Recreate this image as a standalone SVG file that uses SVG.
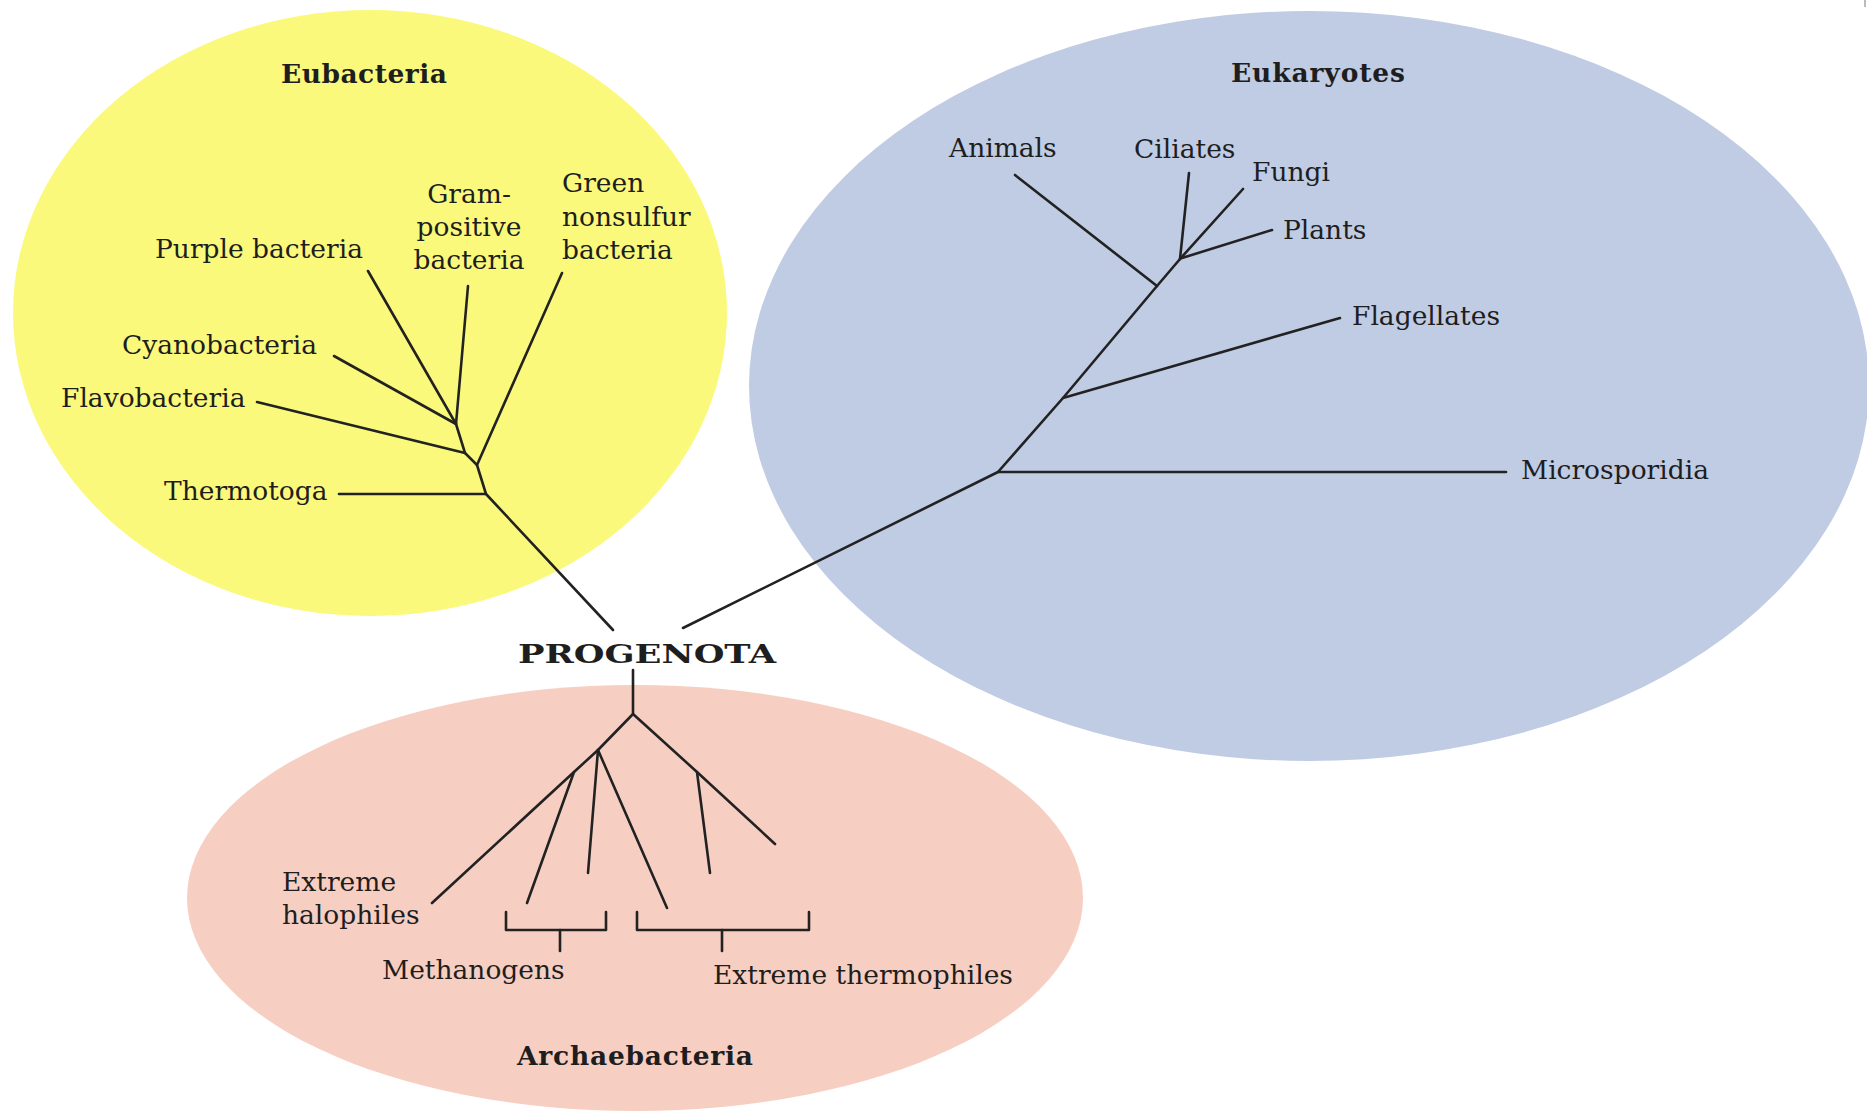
<svg xmlns="http://www.w3.org/2000/svg" width="1867" height="1112" viewBox="0 0 1867 1112">
<style>
.t{font-family:"DejaVu Serif","Liberation Serif",serif;font-size:26.5px;fill:#1e1e1e}
.b{font-weight:bold}
.ln{stroke:#222;stroke-width:2.6;fill:none;stroke-linecap:round;stroke-linejoin:round}
</style>
<rect width="1867" height="1112" fill="#ffffff"/>
<g id="eubacteria">
<ellipse cx="370" cy="313" rx="357" ry="303" fill="#fbf97b"/>
<text class="t b" x="364" y="83" text-anchor="middle" textLength="166">Eubacteria</text>
<text class="t" x="155" y="258">Purple bacteria</text>
<text class="t" x="469" y="203" text-anchor="middle">Gram-</text>
<text class="t" x="469" y="236" text-anchor="middle">positive</text>
<text class="t" x="469" y="269" text-anchor="middle">bacteria</text>
<text class="t" x="562" y="192">Green</text>
<text class="t" x="562" y="226">nonsulfur</text>
<text class="t" x="562" y="259">bacteria</text>
<text class="t" x="122" y="354">Cyanobacteria</text>
<text class="t" x="61" y="407">Flavobacteria</text>
<text class="t" x="164" y="500">Thermotoga</text>
</g>
<g id="eukaryotes">
<ellipse cx="1309" cy="386" rx="560" ry="375" fill="#c0cce4"/>
<text class="t b" x="1318" y="82" text-anchor="middle" textLength="174">Eukaryotes</text>
<text class="t" x="949" y="157">Animals</text>
<text class="t" x="1134" y="158">Ciliates</text>
<text class="t" x="1252" y="181">Fungi</text>
<text class="t" x="1283" y="239">Plants</text>
<text class="t" x="1352" y="325">Flagellates</text>
<text class="t" x="1521" y="479">Microsporidia</text>
</g>
<g id="archaebacteria">
<ellipse cx="635" cy="898" rx="448" ry="213" fill="#f7cfc2"/>
<text class="t" x="282" y="891">Extreme</text>
<text class="t" x="282" y="924">halophiles</text>
<text class="t" x="382" y="979">Methanogens</text>
<text class="t" x="713" y="984">Extreme thermophiles</text>
<text class="t b" x="635" y="1065" text-anchor="middle" textLength="236">Archaebacteria</text>
</g>
<g id="progenota">
<text class="t b" x="647" y="663" text-anchor="middle" font-size="34" textLength="258" lengthAdjust="spacingAndGlyphs">PROGENOTA</text>
</g>
<g id="connectors" class="ln">
<!-- Eubacteria tree -->
<polyline points="368,271 456,424 465,453 477,465 486,494 613,630"/>
<line x1="468" y1="286" x2="456" y2="424"/>
<line x1="334" y1="356" x2="456" y2="424"/>
<line x1="257" y1="402" x2="465" y2="453"/>
<line x1="562" y1="273" x2="477" y2="465"/>
<line x1="339" y1="494" x2="486" y2="494"/>
<!-- Eukaryote tree -->
<polyline points="683,628 998,472 1063,398 1157,286 1180,259"/>
<line x1="998" y1="472" x2="1506" y2="472"/>
<line x1="1063" y1="398" x2="1340" y2="318"/>
<line x1="1015" y1="175" x2="1157" y2="286"/>
<line x1="1189" y1="173" x2="1180" y2="259"/>
<line x1="1243" y1="189" x2="1180" y2="259"/>
<line x1="1272" y1="230" x2="1182" y2="258"/>
<!-- Archaebacteria tree -->
<polyline points="633,670 633,714 598,750 574,772 432,903"/>
<line x1="574" y1="772" x2="527" y2="903"/>
<line x1="598" y1="750" x2="588" y2="873"/>
<line x1="598" y1="750" x2="667" y2="908"/>
<polyline points="633,714 697,772 775,844"/>
<line x1="697" y1="772" x2="710" y2="873"/>
<!-- brackets -->
<polyline points="506,912 506,930 606,930 606,912"/>
<line x1="560" y1="930" x2="560" y2="951"/>
<polyline points="637,912 637,930 809,930 809,912"/>
<line x1="722" y1="930" x2="722" y2="951"/>
</g>
<rect x="1864" y="0" width="2" height="7" fill="#bbbbbb"/>
</svg>
